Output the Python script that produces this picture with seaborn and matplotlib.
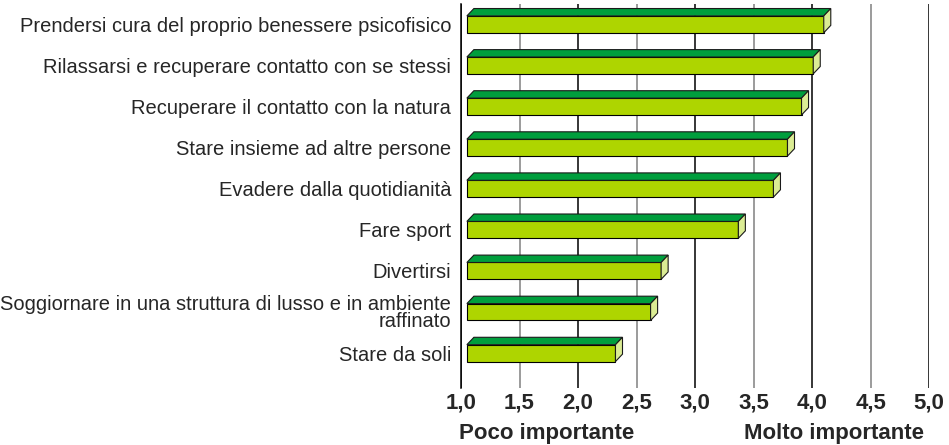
import matplotlib
matplotlib.use("Agg")
import matplotlib.pyplot as plt
import seaborn as sns
import pandas as pd
from matplotlib.patches import Polygon
from matplotlib.ticker import MultipleLocator, FuncFormatter

# dati
categories = [
    "Prendersi cura del proprio benessere psicofisico",
    "Rilassarsi e recuperare contatto con se stessi",
    "Recuperare il contatto con la natura",
    "Stare insieme ad altre persone",
    "Evadere dalla quotidianità",
    "Fare sport",
    "Divertirsi",
    "Soggiornare in una struttura di lusso e in ambiente\nraffinato",
    "Stare da soli",
]
values = [4.10, 4.01, 3.91, 3.79, 3.67, 3.37, 2.71, 2.62, 2.32]
scale_min, scale_max = 1.0, 5.0
label_low = "Poco importante"
label_high = "Molto importante"

# colori / stile
front_col = "#aed500"
top_col = "#009e3d"
side_col = "#dbec94"
depth_x = 0.06   # profondità 3D (unità dati)
depth_y = 0.18
gap = 0.05

sns.set_theme(style="white")
plt.rcParams["font.family"] = ["Liberation Sans", "DejaVu Sans"]

df = pd.DataFrame({"motivo": categories, "valore": values})

fig = plt.figure(figsize=(9.49, 4.45), dpi=100)
ax = fig.add_axes([0.4858, 0.128, 0.979 - 0.4858, 0.991 - 0.128])

sns.barplot(data=df, x="valore", y="motivo", orient="h", color=front_col,
            saturation=1, width=0.41, edgecolor="black", linewidth=0.8,
            ax=ax, zorder=3)

# barre "3D": base a 1,0 + faccia superiore e laterale
for p in ax.patches:
    end = p.get_width()
    p.set_x(scale_min + gap)
    p.set_width(end - scale_min - gap)
    x0, x1 = p.get_x(), end
    y0, h = p.get_y(), p.get_height()
    top = Polygon([(x0, y0), (x1, y0), (x1 + depth_x, y0 - depth_y),
                   (x0 + depth_x, y0 - depth_y)], closed=True,
                  facecolor=top_col, edgecolor="#1a1a1a", linewidth=0.8, zorder=3)
    side = Polygon([(x1, y0), (x1, y0 + h), (x1 + depth_x, y0 + h - depth_y),
                    (x1 + depth_x, y0 - depth_y)], closed=True,
                   facecolor=side_col, edgecolor="#1a1a1a", linewidth=0.8, zorder=3)
    ax.add_patch(top)
    ax.add_patch(side)

ax.set_xlim(scale_min, scale_max)
ax.set_ylim(8.85, -0.495)

# griglia: interi neri, mezzi grigi
ax.xaxis.set_major_locator(MultipleLocator(1.0))
ax.xaxis.set_minor_locator(MultipleLocator(0.5))
ax.xaxis.grid(True, which="major", color="black", linewidth=1.1, zorder=0)
ax.xaxis.grid(True, which="minor", color="#808080", linewidth=1.1, zorder=0)
ax.set_axisbelow(True)

fmt = FuncFormatter(lambda v, pos: f"{v:.1f}".replace(".", ","))
ax.xaxis.set_major_formatter(fmt)
ax.xaxis.set_minor_formatter(fmt)
ax.tick_params(axis="x", which="both", length=0, pad=3, labelsize=16)
for lab in ax.get_xticklabels(which="both"):
    lab.set_fontweight("bold")

ax.tick_params(axis="y", length=0, pad=7, labelsize=14.5)
for lab in ax.get_yticklabels():
    lab.set_linespacing(0.85)

ax.set_xlabel("")
ax.set_ylabel("")
for s in ["top", "right", "bottom"]:
    ax.spines[s].set_visible(False)
ax.spines["left"].set_color("black")
ax.spines["left"].set_linewidth(1.1)

fig.text(547 / 949, 1 - 439 / 445, label_low, ha="center", va="baseline",
         fontsize=16, fontweight="bold")
fig.text(834 / 949, 1 - 439 / 445, label_high, ha="center", va="baseline",
         fontsize=16, fontweight="bold")

fig.savefig("out.png", dpi=100)
